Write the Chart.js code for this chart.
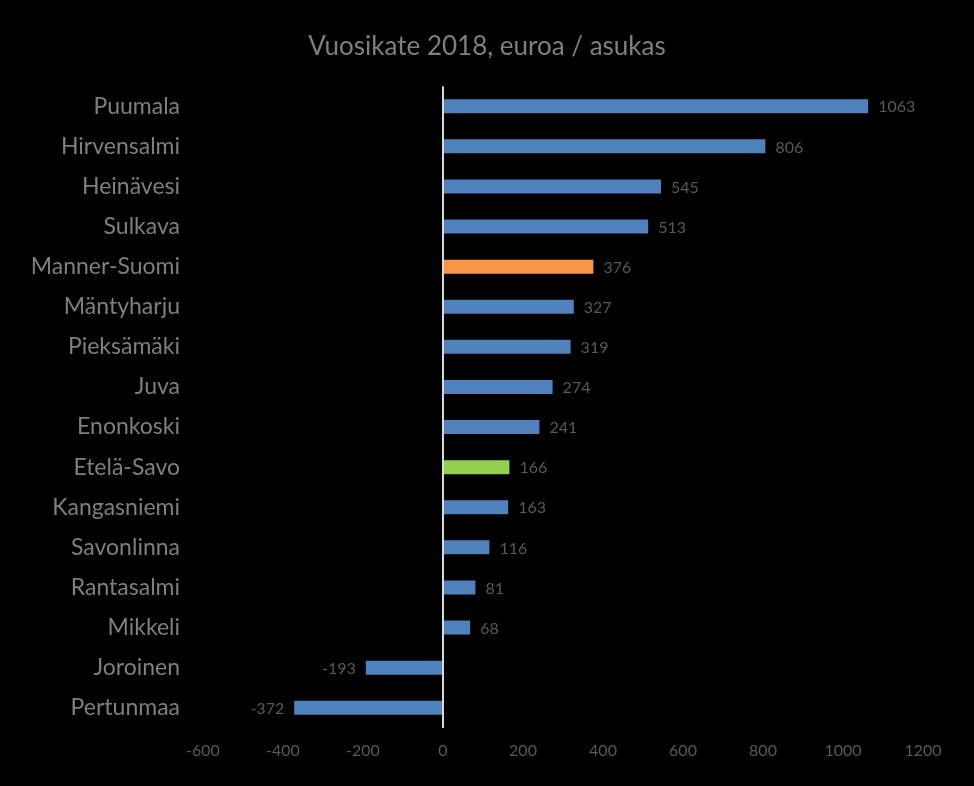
<!DOCTYPE html>
<html>
<head>
<meta charset="utf-8">
<script src="https://cdn.jsdelivr.net/npm/chart.js@4/dist/chart.umd.min.js"></script>
<style>
html,body{margin:0;padding:0;background:#000;}
#wrap{width:974px;height:786px;position:relative;}
</style>
</head>
<body>
<div id="wrap"><canvas id="c" width="974" height="786"></canvas></div>
<script>
const categories = ["Puumala","Hirvensalmi","Heinävesi","Sulkava","Manner-Suomi","Mäntyharju","Pieksämäki","Juva","Enonkoski","Etelä-Savo","Kangasniemi","Savonlinna","Rantasalmi","Mikkeli","Joroinen","Pertunmaa"];
const values = [1063,806,545,513,376,327,319,274,241,166,163,116,81,68,-193,-372];
const barColors = ["#4F81BD","#4F81BD","#4F81BD","#4F81BD","#F79646","#4F81BD","#4F81BD","#4F81BD","#4F81BD","#92D050","#4F81BD","#4F81BD","#4F81BD","#4F81BD","#4F81BD","#4F81BD"];
const xMin = -600, xMax = 1200, xStep = 200;
const titleText = "Vuosikate 2018, euroa / asukas";

const FONT = "Lato, 'Open Sans', sans-serif";

const valueLabels = {
  id: 'valueLabels',
  afterDatasetsDraw(chart) {
    const ctx = chart.ctx;
    const meta = chart.getDatasetMeta(0);
    ctx.save();
    ctx.font = "16px " + FONT;
    ctx.fillStyle = "#595959";
    ctx.textBaseline = "middle";
    meta.data.forEach((bar, i) => {
      const v = values[i];
      if (v >= 0) {
        ctx.textAlign = "left";
        ctx.fillText(String(v), bar.x + 10, bar.y + 1);
      } else {
        ctx.textAlign = "right";
        ctx.fillText(String(v), bar.x - 10, bar.y + 1);
      }
    });
    ctx.restore();
  }
};

const centerTitle = {
  id: 'centerTitle',
  afterLayout(chart) {
    const tb = chart.titleBlock;
    if (tb) { tb.left = 0; tb.right = chart.width; tb.width = chart.width; }
  }
};

new Chart(document.getElementById('c'), {
  type: 'bar',
  data: {
    labels: categories,
    datasets: [{
      data: values,
      backgroundColor: barColors,
      borderWidth: 0,
      categoryPercentage: 1,
      barPercentage: 0.35
    }]
  },
  options: {
    indexAxis: 'y',
    responsive: false,
    animation: false,
    devicePixelRatio: 1,
    layout: { padding: { left: 0, right: 51, top: 0, bottom: 13 } },
    plugins: {
      legend: { display: false },
      tooltip: { enabled: false },
      title: {
        display: true,
        text: titleText,
        color: "#7F7F7F",
        font: { family: FONT, size: 26, weight: 'normal' },
        padding: { top: 31, bottom: 24 }
      }
    },
    scales: {
      x: {
        type: 'linear',
        min: xMin,
        max: xMax,
        ticks: {
          stepSize: xStep,
          color: "#595959",
          font: { family: FONT, size: 16 },
          padding: 13,
          callback: (v) => String(v)
        },
        grid: {
          drawTicks: false,
          lineWidth: 2,
          color: (c) => (c.tick && c.tick.value === 0) ? "#D9D9D9" : "rgba(0,0,0,0)"
        },
        border: { display: false }
      },
      y: {
        ticks: { color: "#7F7F7F", font: { family: FONT, size: 23 }, padding: 23 },
        grid: { display: false, drawTicks: false },
        border: { display: false },
        afterFit(scale) { scale.width = 203; }
      }
    }
  },
  plugins: [valueLabels, centerTitle]
});
</script>
</body>
</html>
